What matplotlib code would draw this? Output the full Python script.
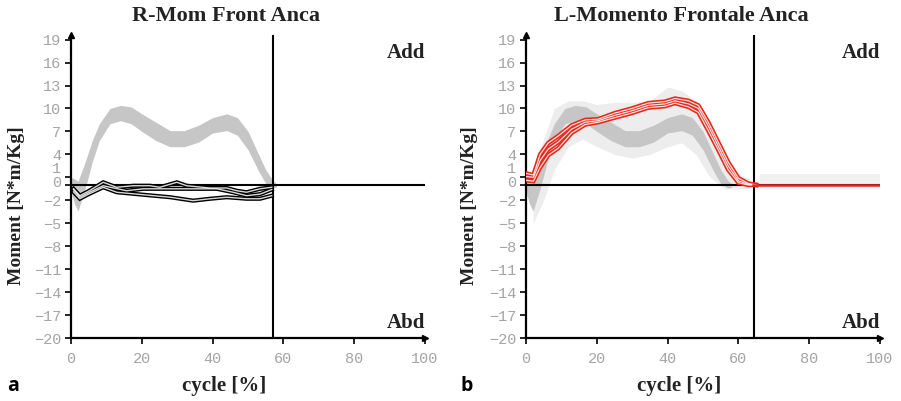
import matplotlib.pyplot as plt
from matplotlib.transforms import ScaledTranslation

# normal reference band (gray), same on both sides
band_x = [0, 1, 2, 4, 6, 8, 11, 14, 17, 20, 24, 28, 32, 36, 40, 44, 47, 50, 53, 55, 57, 58]
band_hi = [1.0, 0.8, 0.5, 3.0, 5.8, 8.0, 10.0, 10.4, 10.2, 9.3, 8.2, 7.1, 7.1, 7.8, 8.8, 9.3, 8.8, 7.0, 4.0, 2.0, 0.6, 0.2]
band_lo = [-0.8, -2.5, -3.4, -0.5, 3.0, 5.8, 8.0, 8.4, 8.0, 7.0, 5.8, 5.0, 5.0, 5.6, 6.8, 7.1, 6.5, 4.6, 1.8, 0.2, -0.4, -0.3]

# faint outer spread on the right side
outer_x = [2, 5, 8, 12, 16, 20, 25, 30, 35, 40, 44, 48, 52, 56, 60, 63]
outer_hi = [2.0, 6.0, 10.0, 11.0, 11.0, 10.5, 10.8, 10.8, 11.0, 12.8, 12.3, 11.0, 8.0, 4.0, 1.5, 0.8]
outer_lo = [-5.0, -2.0, 2.0, 5.0, 6.0, 5.0, 4.0, 3.5, 4.0, 5.0, 5.5, 4.0, 1.0, -0.5, -0.5, -0.5]
tail_x = [66, 100]
tail_hi = [1.4, 1.4]
tail_lo = [-0.4, -0.4]

# right hip (a), three trials
ra_x = [0.7, 2.5, 5, 9.1, 12.9, 17.6, 22.3, 25.1, 29.9, 32.7, 39.3, 44, 46.8, 49.6, 53.4, 56.7]
ra_y = [-0.5, -1.4, -0.8, 0.35, -0.3, -0.1, -0.1, -0.3, 0.35, -0.1, -0.4, -0.4, -0.75, -0.95, -0.5, -0.3]
rb_x = [0.7, 2.5, 5, 9.1, 15.7, 20.4, 27, 32.7, 41.2, 45.8, 49.6, 53.4, 56.7]
rb_y = [-0.6, -1.6, -1.0, -0.1, -0.75, -0.5, -0.5, -0.5, -0.5, -0.95, -1.4, -1.2, -0.6]
rc_x = [0.7, 2.5, 5, 9.1, 12.9, 23.3, 28, 34.5, 39.3, 44, 49.6, 53.4, 56.7]
rc_y = [-0.9, -1.8, -1.2, -0.3, -0.95, -1.4, -1.6, -2.05, -1.8, -1.6, -1.8, -1.8, -1.4]

# left hip (b), three trials
l_x = [0.2, 2.1, 4, 6.3, 9.1, 12.9, 16.7, 20.4, 25.1, 29.9, 34.5, 39.3, 42.1, 45.9, 48.7, 51.5, 54.3, 57.1, 60, 62.8, 65]
l1_y = [1.5, 1.3, 4.0, 5.5, 6.4, 7.8, 8.5, 8.6, 9.4, 10.0, 10.7, 10.9, 11.3, 11.0, 10.4, 8.2, 5.6, 3.0, 0.9, 0.2, 0.0]
l2_y = [1.1, 1.0, 3.2, 4.7, 5.6, 7.3, 8.2, 8.4, 9.1, 9.7, 10.4, 10.6, 11.0, 10.6, 10.0, 7.7, 5.1, 2.5, 0.56, 0.1, 0.0]
l3_y = [0.6, 0.5, 2.3, 3.9, 4.8, 6.8, 7.9, 8.2, 8.8, 9.4, 10.1, 10.3, 10.7, 10.2, 9.5, 7.1, 4.6, 2.0, 0.3, 0.0, 0.0]
flat_x = [64, 100]
flat_y = [0, 0]

y_ticks = [19, 16, 13, 10, 7, 4, 1, 0, -2, -5, -8, -11, -14, -17, -20]
x_ticks = [0, 20, 40, 60, 80, 100]

GRAY_TXT = '#a4a4a4'
BAND = '#c6c6c6'
RED = '#e6281c'
serif = 'Liberation Serif'

fig = plt.figure(figsize=(9.01, 4.01), dpi=100)
ax1 = fig.add_axes([71 / 901, 0.1571, 354 / 901, 0.7556])
ax2 = fig.add_axes([526 / 901, 0.1571, 354 / 901, 0.7556])


def style(ax, vline_x):
    ax.set_xlim(0, 100)
    ax.set_ylim(-20, 19.6)
    for s in ['top', 'right']:
        ax.spines[s].set_visible(False)
    for s in ['left', 'bottom']:
        ax.spines[s].set_linewidth(1.6)
    ax.set_xticks(x_ticks)
    ax.set_yticks(y_ticks)
    ax.tick_params(length=4, width=1.2, labelsize=11, labelcolor=GRAY_TXT, pad=3)
    ax.tick_params(axis='x', pad=6)
    for lbl in ax.get_xticklabels() + ax.get_yticklabels():
        lbl.set_fontfamily('Liberation Mono')
    # pull "1" and "0" apart a bit like the original
    for lbl in ax.get_yticklabels():
        if lbl.get_text() == '1':
            lbl.set_transform(lbl.get_transform() + ScaledTranslation(0, 10 / 100, fig.dpi_scale_trans))
        elif lbl.get_text() == '0':
            lbl.set_transform(lbl.get_transform() + ScaledTranslation(0, 3 / 100, fig.dpi_scale_trans))
    ax.axhline(0, color='k', lw=1.5, zorder=3)
    ax.axvline(vline_x, color='k', lw=1.5, zorder=3)
    ax.plot(1, 0, '>k', ms=5, transform=ax.transAxes, clip_on=False)
    ax.plot(0, 1, '^k', ms=4, transform=ax.transAxes, clip_on=False)
    ax.text(100, 17.3, 'Add', ha='right', va='center', fontsize=15, family=serif, fontweight='bold', color='#222222')
    ax.text(100, -18.0, 'Abd', ha='right', va='center', fontsize=15, family=serif, fontweight='bold', color='#222222')


def hollow(ax, x, y, color, lw_out=3.2, lw_in=0.9):
    ax.plot(x, y, color=color, lw=lw_out, solid_joinstyle='miter', zorder=4)
    ax.plot(x, y, color='white', lw=lw_in, alpha=0.85, zorder=5)


# panel a
ax1.fill_between(band_x, band_lo, band_hi, color=BAND, lw=0, zorder=1)
style(ax1, 57)
for xs, ys in [(ra_x, ra_y), (rb_x, rb_y), (rc_x, rc_y)]:
    hollow(ax1, xs, ys, 'black', 3.0, 1.0)

# panel b
ax2.fill_between(outer_x, outer_lo, outer_hi, color='#ededed', lw=0, zorder=0)
ax2.fill_between(tail_x, tail_lo, tail_hi, color='#f0f2f0', lw=0, zorder=0)
ax2.fill_between(band_x, band_lo, band_hi, color=BAND, lw=0, zorder=1)
style(ax2, 64.4)
for ys in [l1_y, l2_y, l3_y]:
    hollow(ax2, l_x, ys, RED)
ax2.plot(flat_x, flat_y, color=RED, lw=1.8, zorder=6)

# titles and labels
txt = dict(ha='center', va='center', family=serif, fontweight='bold', color='#222222')
fig.text(226 / 901, 1 - 16 / 401, 'R-Mom Front Anca', fontsize=16, **txt)
fig.text(681 / 901, 1 - 16 / 401, 'L-Momento Frontale Anca', fontsize=16, **txt)
for xc in [17, 470]:
    fig.text(xc / 901, 1 - 206 / 401, 'Moment [N*m/Kg]', rotation=90, fontsize=14, **txt)
fig.text(224 / 901, 1 - 386 / 401, 'cycle [%]', fontsize=15, **txt)
fig.text(679 / 901, 1 - 386 / 401, 'cycle [%]', fontsize=15, **txt)
fig.text(7 / 901, 1 - 386 / 401, 'a', ha='left', va='center', fontsize=14, fontweight='bold', family='Open Sans')
fig.text(460 / 901, 1 - 386 / 401, 'b', ha='left', va='center', fontsize=14, fontweight='bold', family='Open Sans')

fig.savefig('out.png', dpi=100)
